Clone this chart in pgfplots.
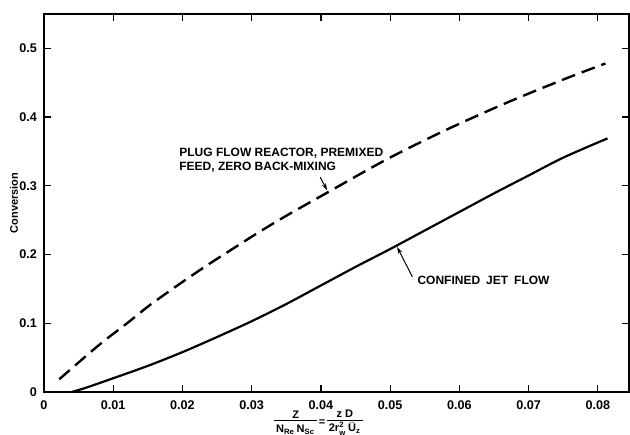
\documentclass[border=0pt]{standalone}
\usepackage{pgfplots}
\pgfplotsset{compat=1.18}
\usepackage{amsmath}
\usepackage{fontspec}
\setmainfont{Liberation Sans}
\usetikzlibrary{arrows.meta}

% compact stacked fraction for the x label
\newcommand\fr[2]{{\renewcommand\arraystretch{0.85}%
  \begin{tabular}{@{\,}c@{\,}}#1\\[-0.5pt]\hline\rule{0pt}{5.5pt}#2\end{tabular}}}

% plug flow reactor, premixed feed (dashed)
\pgfplotstableread{
x       y
0.0022  0.0185
0.0079  0.068
0.0120  0.100
0.0153  0.1265
0.0197  0.158
0.0235  0.184
0.0269  0.206
0.0308  0.231
0.0351  0.257
0.0409  0.290
0.0496  0.339
0.0578  0.380
0.0664  0.419
0.0751  0.455
0.0811  0.478
}\plugflow

% confined jet flow (solid)
\pgfplotstableread{
x       y
0.0040  0.000
0.0060  0.006
0.0100  0.020
0.0150  0.038
0.0200  0.058
0.0250  0.080
0.0300  0.103
0.0350  0.128
0.0400  0.155
0.0450  0.182
0.0500  0.208
0.0550  0.235
0.0600  0.262
0.0650  0.289
0.0700  0.315
0.0750  0.341
0.0814  0.369
}\jetflow

\begin{document}
\begin{tikzpicture}
\begin{axis}[
  scale only axis,
  width=292.5pt, height=189pt,
  xmin=0, xmax=0.0845, ymin=0, ymax=0.55,
  scaled x ticks=false, scaled y ticks=false,
  xtick={0,0.01,0.02,0.03,0.04,0.05,0.06,0.07,0.08},
  xticklabels={0,0.01,0.02,0.03,0.04,0.05,0.06,0.07,0.08},
  ytick={0,0.1,0.2,0.3,0.4,0.5},
  yticklabels={0,0.1,0.2,0.3,0.4,0.5},
  tick align=inside,
  major tick length=3.5pt,
  tick style={black, line width=0.6pt},
  axis line style={line width=0.8pt},
  ticklabel style={font=\bfseries\fontsize{6.3}{7}\selectfont},
  xticklabel style={yshift=-1pt},
  xlabel={\fr{Z}{N$_{\text{Re}}$\,N$_{\text{Sc}}$}\,=\,\fr{z D}{2r$_{\text{w}}^{\text{2}}$\,$\bar{\text{U}}_{\text{z}}$}},
  xlabel style={at={(axis description cs:0.5,0)}, anchor=center,
    yshift=-15.5pt, xshift=-9pt, inner sep=0pt,
    font=\bfseries\fontsize{5.5}{6}\selectfont},
  ylabel={Conversion},
  ylabel style={at={(axis description cs:0,0.5)}, anchor=center,
    yshift=15pt, font=\bfseries\fontsize{5.5}{6}\selectfont},
  clip=false,
]
\addplot[black, line width=1.2pt, smooth, dash pattern=on 7pt off 3.5pt]
  table[x=x, y=y] {\plugflow};
\addplot[black, line width=1.1pt, smooth]
  table[x=x, y=y] {\jetflow};

\node[anchor=west, align=left, inner sep=0pt,
  font=\bfseries\fontsize{6}{7}\selectfont]
  at (axis cs:0.0195,0.337) {PLUG FLOW REACTOR, PREMIXED\\FEED, ZERO BACK-MIXING};
\draw[line width=0.5pt, -{Stealth[length=3.5pt,width=2.2pt]}]
  (axis cs:0.0399,0.3125) -- (axis cs:0.0409,0.2936);

\node[anchor=west, inner sep=0pt,
  font=\bfseries\fontsize{6}{7}\selectfont]
  at (axis cs:0.0539,0.163) {CONFINED\hspace{3pt}JET\hspace{3pt}FLOW};
\draw[line width=0.5pt, -{Stealth[length=3.5pt,width=2.2pt]}]
  (axis cs:0.0532,0.1676) -- (axis cs:0.0510,0.2112);
\end{axis}
\pgfresetboundingbox
\path ([xshift=-22pt,yshift=-21.5pt]current axis.south west)
  rectangle ([xshift=0.5pt,yshift=7pt]current axis.north east);
\end{tikzpicture}
\end{document}
